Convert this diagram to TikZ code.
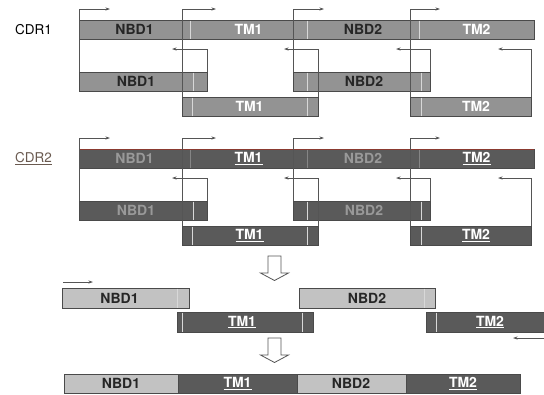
\documentclass[tikz,border=0pt]{standalone}
\usepackage{fontspec}
\setmainfont{TeX Gyre Heros}
\usetikzlibrary{arrows.meta}
\definecolor{midbar}{HTML}{939393}
\definecolor{darkbar}{HTML}{5A5A5A}
\definecolor{lightbar}{HTML}{C2C2C2}
\definecolor{edgec}{HTML}{4A4A4A}
\definecolor{connc}{HTML}{555555}
\definecolor{redline}{HTML}{8A3A30}
\definecolor{cdrtwo}{HTML}{6A5A50}
\definecolor{divc}{HTML}{D8D8D8}
\begin{document}
\begin{tikzpicture}[x=1pt,y=-1pt,
  bar/.style={draw=edgec, line width=0.8pt, minimum height=19pt, inner sep=0pt, outer sep=0pt, anchor=north west},
  midb/.style={bar, fill=midbar},
  darkb/.style={bar, fill=darkbar},
  lightb/.style={bar, fill=lightbar},
  nbdtxt/.style={font=\fontsize{14}{14}\selectfont\bfseries, text=black!85, inner sep=0pt},
  nbdfaint/.style={font=\fontsize{14}{14}\selectfont\bfseries, text=black!40, inner sep=0pt},
  tmtxt/.style={font=\fontsize{14}{14}\selectfont\bfseries, text=white, inner sep=0pt},
  cdrtxt/.style={font=\fontsize{13.5}{13.5}\selectfont, inner sep=0pt, anchor=east},
  divider/.style={draw=divc, line width=0.6pt},
  connector/.style={draw=connc, line width=0.7pt},
  tip/.style={-{Stealth[length=4.5pt,width=3pt]}},
  hollow/.style={draw=connc, line width=0.8pt, fill=white, line join=miter}
]
\useasboundingbox (0,0) rectangle (544,394);

% ---------------- CDR1 ----------------
\node[cdrtxt] (cdr1) at (52,30) {CDR1};
\node[midb, minimum width=455pt] (c1main) at (79,20) {};
\draw[divider] (190,20.5) -- (190,38.5) (307,20.5) -- (307,38.5) (419,20.5) -- (419,38.5);
\node[nbdtxt] (c1t1) at (134.5,29.5) {NBD1};
\node[tmtxt]  (c1t2) at (248.5,29.5) {TM1};
\node[nbdtxt] (c1t3) at (363,29.5) {NBD2};
\node[tmtxt]  (c1t4) at (476.5,29.5) {TM2};

\node[midb, minimum width=128pt] (c1n1) at (79,72) {};
\node[midb, minimum width=136pt] (c1m1) at (182,97) {};
\node[midb, minimum width=137pt] (c1n2) at (293,72) {};
\node[midb, minimum width=121pt] (c1m2) at (410,97) {};
\draw[divider] (193,72.5) -- (193,90.5) (192,97.5) -- (192,115.5) (307,97.5) -- (307,115.5)
  (307,72.5) -- (307,90.5) (421,72.5) -- (421,90.5) (421,97.5) -- (421,115.5);
\node[nbdtxt] (c1l1) at (136,81.5) {NBD1};
\node[tmtxt]  (c1l2) at (249.5,106.5) {TM1};
\node[nbdtxt] (c1l3) at (364,81.5) {NBD2};
\node[tmtxt]  (c1l4) at (476,106.5) {TM2};

\coordinate (c1a1) at (110,9);
\coordinate (c1a2) at (216,9);
\coordinate (c1a3) at (324,9);
\coordinate (c1a4) at (440,9);
\coordinate (c1r1) at (172,49);
\coordinate (c1r2) at (284,49);
\coordinate (c1r3) at (396,49);
\coordinate (c1r4) at (498,49);
\draw[connector,tip] (c1n1.north west) |- (c1a1);
\draw[connector,tip] (c1m1.north west) |- (c1a2);
\draw[connector,tip] (c1n2.north west) |- (c1a3);
\draw[connector,tip] (c1m2.north west) |- (c1a4);
\draw[connector,tip] (c1n1.north east) |- (c1r1);
\draw[connector,tip] (c1m1.north east) |- (c1r2);
\draw[connector,tip] (c1n2.north east) |- (c1r3);
\draw[connector,tip] (c1m2.north east) |- (c1r4);

% ---------------- CDR2 ----------------
\node[cdrtxt, text=cdrtwo] (cdr2) at (52,159) {\underline{CDR2}};
\node[darkb, minimum width=455pt] (c2main) at (79,149) {};
\draw[redline, line width=0.7pt] (79,149.2) -- (534,149.2);
\draw[divider, draw opacity=0.35] (190,149.5) -- (190,167.5) (307,149.5) -- (307,167.5) (419,149.5) -- (419,167.5);
\node[nbdfaint] (c2t1) at (134.5,158.5) {NBD1};
\node[tmtxt]    (c2t2) at (248.5,158.5) {\underline{TM1}};
\node[nbdfaint] (c2t3) at (363,158.5) {NBD2};
\node[tmtxt]    (c2t4) at (476.5,158.5) {\underline{TM2}};

\node[darkb, minimum width=128pt] (c2n1) at (79,201) {};
\node[darkb, minimum width=136pt] (c2m1) at (182,226) {};
\node[darkb, minimum width=137pt] (c2n2) at (293,201) {};
\node[darkb, minimum width=121pt] (c2m2) at (410,226) {};
\draw[divider] (193,201.5) -- (193,219.5) (192,226.5) -- (192,244.5) (307,226.5) -- (307,244.5)
  (307,201.5) -- (307,219.5) (421,201.5) -- (421,219.5) (421,226.5) -- (421,244.5);
\node[nbdfaint] (c2l1) at (136,210.5) {NBD1};
\node[tmtxt]    (c2l2) at (249.5,235.5) {\underline{TM1}};
\node[nbdfaint] (c2l3) at (364,210.5) {NBD2};
\node[tmtxt]    (c2l4) at (476,235.5) {\underline{TM2}};

\coordinate (c2a1) at (110,138);
\coordinate (c2a2) at (216,138);
\coordinate (c2a3) at (324,138);
\coordinate (c2a4) at (440,138);
\coordinate (c2r1) at (172,178);
\coordinate (c2r2) at (284,178);
\coordinate (c2r3) at (396,178);
\coordinate (c2r4) at (498,178);
\draw[connector,tip] (c2n1.north west) |- (c2a1);
\draw[connector,tip] (c2m1.north west) |- (c2a2);
\draw[connector,tip] (c2n2.north west) |- (c2a3);
\draw[connector,tip] (c2m2.north west) |- (c2a4);
\draw[connector,tip] (c2n1.north east) |- (c2r1);
\draw[connector,tip] (c2m1.north east) |- (c2r2);
\draw[connector,tip] (c2n2.north east) |- (c2r3);
\draw[connector,tip] (c2m2.north east) |- (c2r4);

% ---------------- hollow arrow 1 ----------------
\draw[hollow] (268,256) -- (281,256) -- (281,273) -- (288.5,273) -- (274.5,280.5)
  -- (260.5,273) -- (268,273) -- cycle;

% ---------------- row 3 ----------------
\coordinate (b0s) at (63,282);
\coordinate (b0e) at (93,282);
\draw[connector,tip] (b0s) -- (b0e);

\node[lightb, minimum width=127pt, minimum height=20pt] (r3n1) at (62,288) {};
\node[darkb, minimum width=136pt, minimum height=20pt] (r3m1) at (177,312) {};
\node[lightb, minimum width=136pt, minimum height=20pt] (r3n2) at (299,288) {};
\node[darkb, minimum width=118pt, minimum height=20pt] (r3m2) at (426,312) {};
\draw[divider] (177,288.5) -- (177,307.5) (182,312.5) -- (182,331.5) (302,312.5) -- (302,331.5)
  (424,288.5) -- (424,307.5) (436,312.5) -- (436,331.5);
\node[nbdtxt] (r3t1) at (119.5,298) {NBD1};
\node[tmtxt]  (r3t2) at (242,322) {\underline{TM1}};
\node[nbdtxt] (r3t3) at (367,298) {NBD2};
\node[tmtxt]  (r3t4) at (490,322) {\underline{TM2}};

\coordinate (b1s) at (544,338);
\coordinate (b1e) at (513,338);
\draw[connector,tip] (b1s) -- (b1e);

% ---------------- hollow arrow 2 ----------------
\draw[hollow] (268,338) -- (281,338) -- (281,355) -- (288.5,355) -- (274.5,362.5)
  -- (260.5,355) -- (268,355) -- cycle;

% ---------------- final bar ----------------
\node[lightb, minimum width=114pt] (f1) at (64,374) {};
\node[darkb, minimum width=119pt] (f2) at (178,374) {};
\node[lightb, minimum width=109pt] (f3) at (297,374) {};
\node[darkb, minimum width=114pt] (f4) at (406,374) {};
\node[nbdtxt] (ft1) at (121,383.5) {NBD1};
\node[tmtxt]  (ft2) at (237.5,383.5) {\underline{TM1}};
\node[nbdtxt] (ft3) at (351,383.5) {NBD2};
\node[tmtxt]  (ft4) at (463,383.5) {\underline{TM2}};
\end{tikzpicture}
\end{document}
